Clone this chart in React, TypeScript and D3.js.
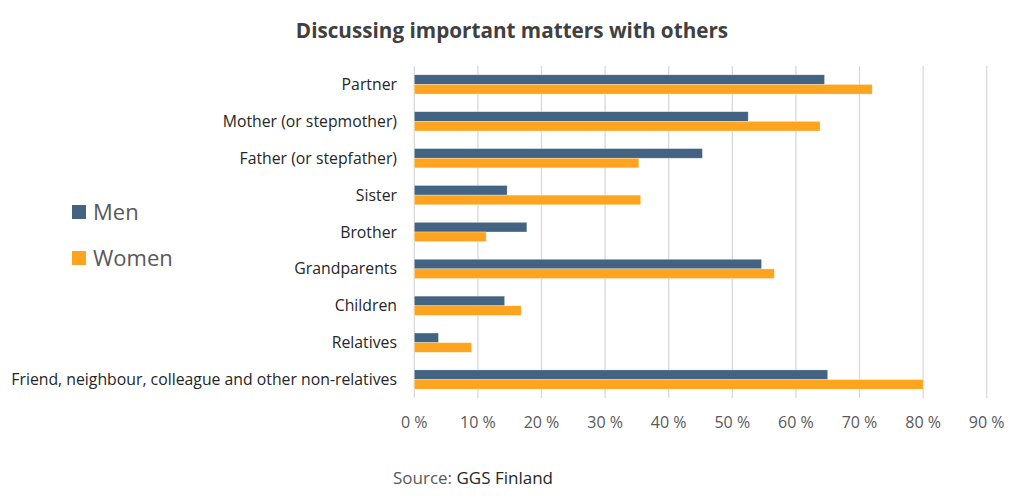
import React from "react";
import * as d3 from "d3";

const categories = [
  "Partner",
  "Mother (or stepmother)",
  "Father (or stepfather)",
  "Sister",
  "Brother",
  "Grandparents",
  "Children",
  "Relatives",
  "Friend, neighbour, colleague and other non-relatives",
];
const men = [64.5, 52.5, 45.3, 14.6, 17.7, 54.6, 14.2, 3.8, 65.0];
const women = [72.0, 63.8, 35.3, 35.6, 11.3, 56.6, 16.8, 9.0, 80.0];
const seriesNames = ["Men", "Women"];
const ticks = [0, 10, 20, 30, 40, 50, 60, 70, 80, 90];

const COLORS = ["#426381", "#FFA41F"];
const FONT = "'Open Sans', 'Noto Sans', sans-serif";

export default function App() {
  const W = 1024, H = 496;
  const left = 414.3, right = 986.7, top = 66, bottom = 398;
  const x = d3.scaleLinear().domain([0, 90]).range([left, right]);
  const y = d3.scaleBand<string>().domain(categories).range([top, bottom]).paddingInner(0.477).paddingOuter(0.2385);
  const sub = d3.scaleBand<string>().domain(seriesNames).range([0, y.bandwidth()]);
  const values = [men, women];

  return (
    <svg width={W} height={H} style={{ position: "absolute", left: 0, top: 0, background: "#fff" }} fontFamily={FONT}>
      <text x={512} y={38} textAnchor="middle" fontSize={20.7} fontWeight={700} fill="#404040">
        Discussing important matters with others
      </text>
      {ticks.map((t) => (
        <g key={t}>
          <line x1={x(t)} x2={x(t)} y1={top} y2={bottom} stroke="#d9d9d9" strokeWidth={1.3} />
          <text x={x(t)} y={428} textAnchor="middle" fontSize={16} fill="#595959">
            {t} %
          </text>
        </g>
      ))}
      {categories.map((c, i) => (
        <g key={c}>
          {seriesNames.map((s, k) => (
            <rect
              key={s}
              x={x(0)}
              y={(y(c) as number) + (sub(s) as number)}
              width={x(values[k][i]) - x(0)}
              height={sub.bandwidth()}
              fill={COLORS[k]}
              stroke="#ffffff"
              strokeOpacity={0.5}
              strokeWidth={0.6}
            />
          ))}
          <text x={397} y={(y(c) as number) + y.bandwidth() / 2 + 5.5} textAnchor="end" fontSize={15.8} fill="#262626">
            {c}
          </text>
        </g>
      ))}
      {seriesNames.map((s, k) => (
        <g key={s}>
          <rect x={72} y={205 + k * 46} width={14} height={14} fill={COLORS[k]} />
          <text x={93} y={220 + k * 46} fontSize={22} fill="#595959">
            {s}
          </text>
        </g>
      ))}
      <text x={393} y={484} fontSize={17} fill="#595959">
        Source: <tspan fill="#262626">GGS Finland</tspan>
      </text>
    </svg>
  );
}
